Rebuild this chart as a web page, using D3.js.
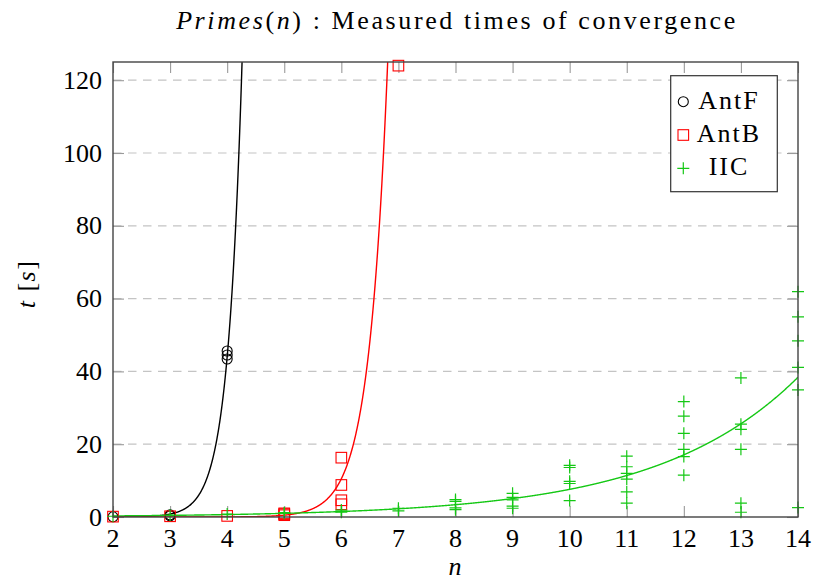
<!DOCTYPE html>
<html>
<head>
<meta charset="utf-8">
<script src="https://cdn.jsdelivr.net/npm/d3@7"></script>
<style>
  html, body { margin: 0; padding: 0; background: #fff; }
  svg { display: block; }
  text { font-family: "Liberation Serif", "DejaVu Serif", serif; fill: #000; }
</style>
</head>
<body>
<div id="chart"></div>
<script>
// Measured convergence times of the three solvers on Primes(n)
const xTicks = [2, 3, 4, 5, 6, 7, 8, 9, 10, 11, 12, 13, 14];
const yTicks = [0, 20, 40, 60, 80, 100, 120];

const antF_n = [2, 3, 3, 4, 4, 4];
const antF_t = [0.05, 0.3, 0.6, 45.6, 44.5, 43.4];

const antB_n = [2, 3, 4, 5, 5, 5, 6, 6, 6, 6, 7];
const antB_t = [0.1, 0.2, 0.3, 0.5, 0.8, 1.0, 16.3, 8.8, 4.6, 3.5, 124];

const iic_n = [2, 3, 4, 5, 5, 6, 6, 7, 7,
  8, 8, 8, 8,
  9, 9, 9, 9, 9,
  10, 10, 10, 10, 10,
  11, 11, 11, 11, 11, 11,
  12, 12, 12, 12, 12, 12,
  13, 13, 13, 13, 13, 13,
  14, 14, 14, 14, 14, 14];
const iic_t = [0.2, 0.5, 0.8, 1.2, 1.0, 1.9, 1.3, 2.4, 1.7,
  4.8, 4.3, 2.5, 2.0,
  6.5, 5.4, 4.7, 3.0, 2.4,
  14.2, 13.6, 9.8, 9.2, 4.5,
  16.7, 13.8, 12.0, 10.4, 6.9, 3.8,
  31.7, 27.7, 23.0, 18.6, 16.6, 11.5,
  38.2, 25.5, 24.1, 18.6, 3.8, 1.3,
  61.9, 55.0, 48.4, 41.1, 34.9, 2.6];

// exponential fits t = A * exp(B * n) for AntF, AntB, IIC
const seriesNames = ["AntF", "AntB", "IIC"];
const seriesColors = ["#000000", "#ff0000", "#14c814"];
const fitA = [4.952e-6, 1.185e-7, 0.1324];
const fitB = [4.0, 3.05, 0.405];

const W = 815, H = 581;
const M = { left: 113, right: 17, top: 62, bottom: 64 };
const pw = W - M.left - M.right, ph = H - M.top - M.bottom;

const svg = d3.select("#chart").append("svg").attr("width", W).attr("height", H);

const x = d3.scaleLinear().domain([2, 14]).range([M.left, M.left + pw]);
const y = d3.scaleLinear().domain([0, 125]).range([M.top + ph, M.top]);

svg.append("defs").append("clipPath").attr("id", "plotclip")
  .append("rect").attr("x", M.left).attr("y", M.top).attr("width", pw).attr("height", ph);

// horizontal dashed grid
svg.append("g")
  .selectAll("line").data(yTicks.filter(d => d > 0)).join("line")
  .attr("x1", M.left).attr("x2", M.left + pw)
  .attr("y1", d => y(d)).attr("y2", d => y(d))
  .attr("stroke", "#c4c4c4").attr("stroke-width", 1.2)
  .attr("stroke-dasharray", "8.5,6.5");

// tick marks pointing inward on all four sides
const tickLen = 11;
const tickStyle = g => g.call(s => s.select(".domain").remove())
  .call(s => s.selectAll(".tick line").attr("stroke", "#9a9a9a").attr("stroke-width", 1.1))
  .call(s => s.selectAll(".tick text").remove());

svg.append("g").attr("transform", `translate(0,${M.top + ph})`)
  .call(d3.axisTop(x).tickValues(xTicks).tickSize(tickLen)).call(tickStyle);
svg.append("g").attr("transform", `translate(0,${M.top})`)
  .call(d3.axisBottom(x).tickValues(xTicks).tickSize(tickLen)).call(tickStyle);
svg.append("g").attr("transform", `translate(${M.left},0)`)
  .call(d3.axisRight(y).tickValues(yTicks).tickSize(tickLen)).call(tickStyle);
svg.append("g").attr("transform", `translate(${M.left + pw},0)`)
  .call(d3.axisLeft(y).tickValues(yTicks).tickSize(tickLen)).call(tickStyle);

// tick labels
svg.append("g").selectAll("text").data(xTicks).join("text")
  .attr("x", d => x(d)).attr("y", 546.5)
  .attr("text-anchor", "middle").attr("font-size", 26)
  .text(d => d);
svg.append("g").selectAll("text").data(yTicks).join("text")
  .attr("x", 102).attr("y", d => y(d) + 8.5)
  .attr("text-anchor", "end").attr("font-size", 26)
  .text(d => d);

// fitted curves
const nGrid = d3.range(2, 14.0001, 0.005);
const line = d3.line().x(d => x(d[0])).y(d => y(d[1]));
const curves = svg.append("g").attr("clip-path", "url(#plotclip)");

function drawSeries(i, ns, ts, markFn) {
  const pts = ns.map((n, k) => [n, ts[k]]);
  const g = svg.append("g");
  markFn(g, pts, seriesColors[i]);
  const fitPts = nGrid.map(n => [n, fitA[i] * Math.exp(fitB[i] * n)]).filter(p => p[1] < 400);
  curves.append("path").datum(fitPts).attr("d", line)
    .attr("fill", "none").attr("stroke", seriesColors[i]).attr("stroke-width", 1.4);
}

const circleMarks = (g, pts, c) => g.selectAll("circle").data(pts).join("circle")
  .attr("cx", d => x(d[0])).attr("cy", d => y(d[1])).attr("r", 5)
  .attr("fill", "none").attr("stroke", c).attr("stroke-width", 1.1);
const squareMarks = (g, pts, c) => g.selectAll("rect").data(pts).join("rect")
  .attr("x", d => x(d[0]) - 5.3).attr("y", d => y(d[1]) - 5.3)
  .attr("width", 10.6).attr("height", 10.6)
  .attr("fill", "none").attr("stroke", c).attr("stroke-width", 1.1);
const plusMarks = (g, pts, c) => g.selectAll("path").data(pts).join("path")
  .attr("d", d => `M${x(d[0]) - 6},${y(d[1])}h12M${x(d[0])},${y(d[1]) - 6}v12`)
  .attr("fill", "none").attr("stroke", c).attr("stroke-width", 1.2);

drawSeries(0, antF_n, antF_t, circleMarks);
drawSeries(1, antB_n, antB_t, squareMarks);
drawSeries(2, iic_n, iic_t, plusMarks);

// plot frame
svg.append("rect").attr("x", M.left).attr("y", M.top).attr("width", pw).attr("height", ph)
  .attr("fill", "none").attr("stroke", "#444").attr("stroke-width", 1.4);

// legend
const lg = svg.append("g");
lg.append("rect").attr("x", 670.7).attr("y", 75.7).attr("width", 106.6).attr("height", 116)
  .attr("fill", "#fff").attr("stroke", "#333").attr("stroke-width", 1.2);
const legendY = [101.7, 135, 168.3];
const legendMarks = [circleMarks, squareMarks, plusMarks];
seriesNames.forEach((name, i) => {
  const g = lg.append("g");
  const mx = x.invert(683.3), my = y.invert(legendY[i]);
  legendMarks[i](g, [[mx, my]], seriesColors[i]);
  g.append("text").attr("x", 729).attr("y", legendY[i] + 7)
    .attr("text-anchor", "middle").attr("font-size", 26)
    .attr("letter-spacing", 2).text(name);
});

// title
const title = svg.append("text").attr("x", 457).attr("y", 28.5)
  .attr("text-anchor", "middle").attr("font-size", 26).attr("letter-spacing", 2.6);
title.append("tspan").attr("font-style", "italic").text("Primes");
title.append("tspan").text("(");
title.append("tspan").attr("font-style", "italic").text("n");
title.append("tspan").text(") : Measured times of convergence");

// axis labels
svg.append("text").attr("x", 455).attr("y", 575)
  .attr("text-anchor", "middle").attr("font-size", 26).attr("font-style", "italic").text("n");
const yl = svg.append("text").attr("transform", "translate(35,284) rotate(-90)")
  .attr("text-anchor", "middle").attr("font-size", 26).attr("letter-spacing", 1.5);
yl.append("tspan").attr("font-style", "italic").text("t");
yl.append("tspan").text(" [");
yl.append("tspan").attr("font-style", "italic").text("s");
yl.append("tspan").text("]");
</script>
</body>
</html>
